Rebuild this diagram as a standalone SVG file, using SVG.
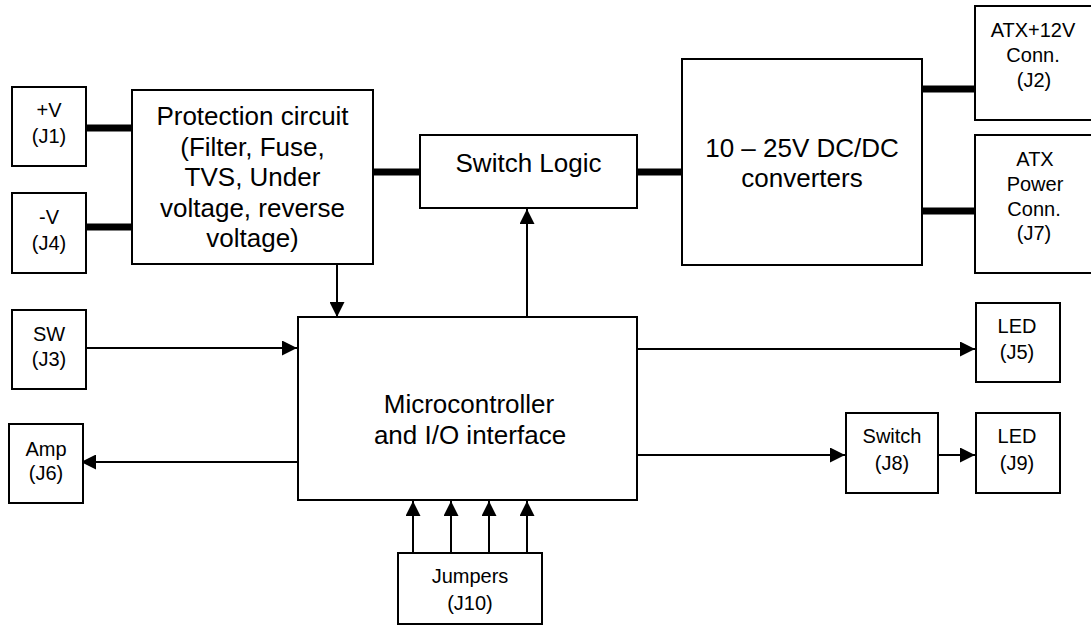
<svg xmlns="http://www.w3.org/2000/svg" width="1091" height="625" viewBox="0 0 1091 625">
<style>
.box{fill:#fff;stroke:#000;stroke-width:2}
.t{font-family:"Liberation Sans",Arial,sans-serif;fill:#000;text-anchor:middle}
.s{font-size:20px}
.b{font-size:26px}
.thick{stroke:#000;stroke-width:7;fill:none}
.thin{stroke:#000;stroke-width:2;fill:none}
</style>
<defs>
<marker id="arr" markerUnits="userSpaceOnUse" markerWidth="15" markerHeight="15" refX="15" refY="7.5" orient="auto">
<path d="M0,0 L15,7.5 L0,15 z" fill="#000"/>
</marker>
</defs>
<rect width="1091" height="625" fill="#fff"/>
<g id="connectors">
<line class="thick" x1="86" y1="128" x2="132" y2="128"/>
<line class="thick" x1="86" y1="227" x2="132" y2="227"/>
<line class="thick" x1="373" y1="172" x2="420" y2="172"/>
<line class="thick" x1="637" y1="172" x2="682" y2="172"/>
<line class="thick" x1="922" y1="89" x2="975" y2="89"/>
<line class="thick" x1="922" y1="211" x2="975" y2="211"/>
<line class="thin" x1="337" y1="264" x2="337" y2="317" marker-end="url(#arr)"/>
<line class="thin" x1="527" y1="317" x2="527" y2="209" marker-end="url(#arr)"/>
<line class="thin" x1="86" y1="348" x2="297" y2="348" marker-end="url(#arr)"/>
<line class="thin" x1="298" y1="462" x2="81" y2="462" marker-end="url(#arr)"/>
<line class="thin" x1="633" y1="349" x2="975" y2="349" marker-end="url(#arr)"/>
<line class="thin" x1="633" y1="455" x2="845" y2="455" marker-end="url(#arr)"/>
<line class="thin" x1="938" y1="455" x2="975" y2="455" marker-end="url(#arr)"/>
<line class="thin" x1="413" y1="553" x2="413" y2="501" marker-end="url(#arr)"/>
<line class="thin" x1="451" y1="553" x2="451" y2="501" marker-end="url(#arr)"/>
<line class="thin" x1="489" y1="553" x2="489" y2="501" marker-end="url(#arr)"/>
<line class="thin" x1="527" y1="553" x2="527" y2="501" marker-end="url(#arr)"/>
</g>
<g id="j1">
<rect class="box" x="12" y="87" width="74" height="79"/>
<text class="t s" x="49" y="117">+V</text>
<text class="t s" x="49" y="143">(J1)</text>
</g>
<g id="j4">
<rect class="box" x="12" y="193" width="74" height="80"/>
<text class="t s" x="49" y="224">-V</text>
<text class="t s" x="49" y="250">(J4)</text>
</g>
<g id="protection">
<rect class="box" x="132" y="90" width="241" height="174"/>
<text class="t b" x="252.5" y="125">Protection circuit</text>
<text class="t b" x="252.5" y="155.5">(Filter, Fuse,</text>
<text class="t b" x="252.5" y="186">TVS, Under</text>
<text class="t b" x="252.5" y="216.5">voltage, reverse</text>
<text class="t b" x="252.5" y="247">voltage)</text>
</g>
<g id="switchlogic">
<rect class="box" x="420" y="135" width="217" height="73"/>
<text class="t b" x="528.5" y="171.5">Switch Logic</text>
</g>
<g id="dcdc">
<rect class="box" x="682" y="59" width="240" height="206"/>
<text class="t b" x="802" y="156.5">10 – 25V DC/DC</text>
<text class="t b" x="802" y="186.5">converters</text>
</g>
<g id="j2">
<rect class="box" x="975" y="6" width="130" height="114"/>
<text class="t s" x="1033" y="37">ATX+12V</text>
<text class="t s" x="1033" y="62">Conn.</text>
<text class="t s" x="1034" y="87">(J2)</text>
</g>
<g id="j7">
<rect class="box" x="975" y="135" width="130" height="138"/>
<text class="t s" x="1035" y="166">ATX</text>
<text class="t s" x="1035" y="191">Power</text>
<text class="t s" x="1034" y="216">Conn.</text>
<text class="t s" x="1034" y="240">(J7)</text>
</g>
<g id="j3">
<rect class="box" x="12" y="310" width="74" height="79"/>
<text class="t s" x="49" y="341">SW</text>
<text class="t s" x="49" y="366">(J3)</text>
</g>
<g id="j6">
<rect class="box" x="9" y="424" width="74" height="79"/>
<text class="t s" x="46" y="456">Amp</text>
<text class="t s" x="46" y="480">(J6)</text>
</g>
<g id="micro">
<rect class="box" x="298" y="317" width="339" height="183"/>
<text class="t b" x="469" y="413">Microcontroller</text>
<text class="t b" x="470" y="444">and I/O interface</text>
</g>
<g id="j5">
<rect class="box" x="976" y="303" width="84" height="79"/>
<text class="t s" x="1017" y="333">LED</text>
<text class="t s" x="1017" y="359">(J5)</text>
</g>
<g id="j8">
<rect class="box" x="846" y="413" width="92" height="80"/>
<text class="t s" x="892" y="443">Switch</text>
<text class="t s" x="892" y="470">(J8)</text>
</g>
<g id="j9">
<rect class="box" x="976" y="413" width="84" height="80"/>
<text class="t s" x="1017" y="443">LED</text>
<text class="t s" x="1017" y="470">(J9)</text>
</g>
<g id="j10">
<rect class="box" x="398" y="553" width="144" height="71"/>
<text class="t s" x="470" y="583">Jumpers</text>
<text class="t s" x="470" y="610">(J10)</text>
</g>
</svg>
